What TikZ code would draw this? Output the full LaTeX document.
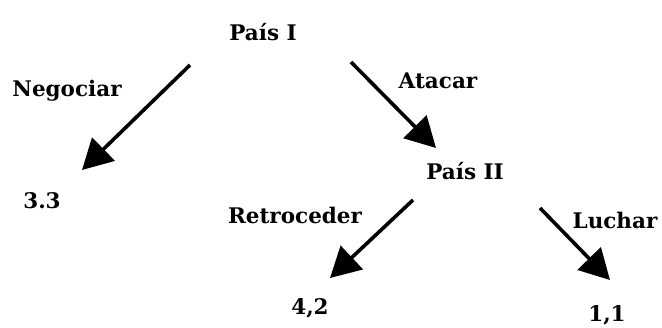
\documentclass[tikz,border=0pt]{standalone}
\usepackage{fontspec}
\setmainfont{DejaVu Serif}
\usetikzlibrary{arrows.meta}
\begin{document}
\begin{tikzpicture}[x=1pt,y=-1pt,
  lbl/.style={font=\bfseries\fontsize{21.5}{25}\selectfont, inner sep=0pt, anchor=center},
  arr/.style={line width=3.6pt, -{Triangle[length=30pt,width=32pt]}}]
\useasboundingbox (0,0) rectangle (662,327);
\node[lbl] (p1) at (263,32) {País I};
\node[lbl] (neg) at (67,91) {Negociar};
\node[lbl] (n33) at (42,201) {3.3};
\node[lbl] (ata) at (438,81) {Atacar};
\node[lbl] (p2) at (465,171) {País II};
\node[lbl] (ret) at (295,215) {Retroceder};
\node[lbl] (luc) at (615,220) {Luchar};
\node[lbl] (n42) at (310,308) {4,2};
\node[lbl] (n11) at (607,315) {1,1};
\coordinate (a1s) at (190,65);
\coordinate (a1e) at (82,170);
\coordinate (a2s) at (351,62);
\coordinate (a2e) at (436,148);
\coordinate (a3s) at (413,200);
\coordinate (a3e) at (330,278);
\coordinate (a4s) at (540,208);
\coordinate (a4e) at (610,280);
\draw[arr] (a1s) -- (a1e);
\draw[arr] (a2s) -- (a2e);
\draw[arr] (a3s) -- (a3e);
\draw[arr] (a4s) -- (a4e);
\end{tikzpicture}
\end{document}
